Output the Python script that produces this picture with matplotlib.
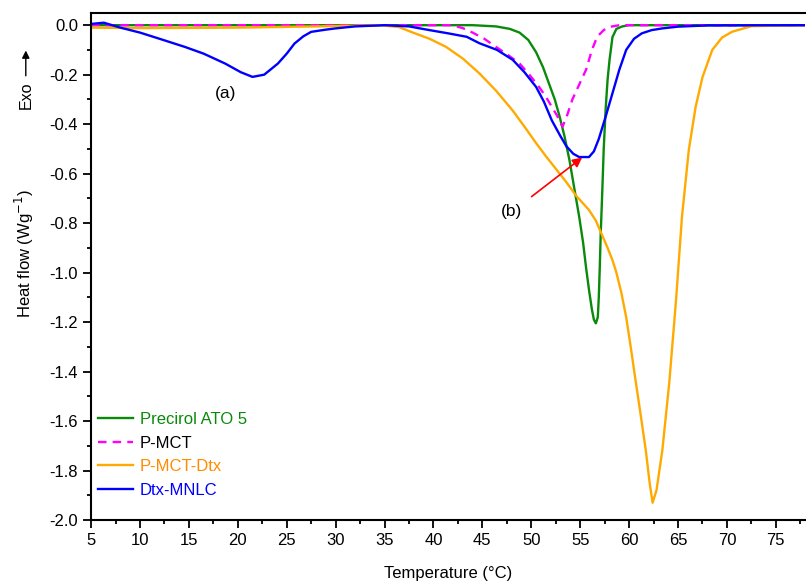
import numpy as np
from matplotlib import pyplot as plt
from matplotlib.patches import FancyArrowPatch
from matplotlib.ticker import MultipleLocator

plt.rcParams['font.family'] = ['Liberation Sans', 'DejaVu Sans']
plt.rcParams['font.size'] = 12

# DSC curves
t_precirol = [5, 30, 44, 46.4, 47.8, 48.8, 49.7, 50.5, 51.2, 51.8, 52.4, 52.9, 53.4, 53.9,
              54.4, 54.9, 55.3, 55.6, 55.9, 56.2, 56.4, 56.6, 56.8, 56.9, 57.0, 57.1, 57.25,
              57.4, 57.6, 57.8, 58.0, 58.3, 58.7, 59.3, 60, 78]
hf_precirol = [0, 0, 0, -0.005, -0.015, -0.03, -0.06, -0.11, -0.17, -0.235, -0.3, -0.37,
               -0.45, -0.545, -0.66, -0.775, -0.88, -0.98, -1.07, -1.15, -1.19, -1.205,
               -1.18, -1.1, -0.98, -0.84, -0.68, -0.505, -0.34, -0.22, -0.14, -0.048,
               -0.015, -0.005, 0, 0]

t_pmct = [5, 40, 41.9, 43, 44, 45.2, 46.4, 47.6, 48.8, 49.8, 50.8, 51.5, 52.1, 52.7, 53.2,
          53.7, 54.2, 54.9, 55.6, 56.2, 56.6, 56.9, 57.4, 58, 59, 78]
hf_pmct = [0, 0, 0, -0.012, -0.03, -0.055, -0.088, -0.12, -0.155, -0.2, -0.25, -0.29, -0.33,
           -0.37, -0.41, -0.36, -0.30, -0.24, -0.18, -0.10, -0.06, -0.04, -0.02, -0.007, 0, 0]

t_pmct_dtx = [5, 10, 20, 28, 32, 34.5, 36.5, 37.9, 39.6, 41.3, 43, 44.7, 46.4, 48.1, 49.3,
              50.5, 51.5, 52.6, 53.5, 54.6, 55.9, 56.6, 57.2, 57.8, 58.3, 58.7, 59.2, 59.7,
              60.2, 60.7, 61.2, 61.7, 62.1, 62.4, 62.8, 63.4, 64.1, 64.8, 65.4, 66.1, 66.8,
              67.5, 68.5, 69.5, 70.5, 72.5, 78]
hf_pmct_dtx = [-0.01, -0.012, -0.01, -0.005, -0.002, 0, -0.008, -0.03, -0.055, -0.088,
               -0.135, -0.195, -0.265, -0.345, -0.41, -0.477, -0.53, -0.585, -0.63, -0.69,
               -0.747, -0.79, -0.845, -0.9, -0.95, -1.0, -1.08, -1.18, -1.31, -1.447, -1.58,
               -1.717, -1.85, -1.93, -1.88, -1.717, -1.447, -1.11, -0.776, -0.505, -0.33,
               -0.21, -0.1, -0.05, -0.027, -0.004, 0]

t_mnlc = [5, 6.3, 8, 10, 12, 14.6, 16.5, 18.7, 20.3, 21.5, 22.7, 24.1, 25, 25.8, 26.7, 27.5,
          29, 30, 32, 35, 37.5, 39.6, 41.5, 43.4, 44.7, 46.5, 48.1, 49.3, 50.5, 51.3, 52.1,
          53, 53.6, 54.3, 54.9, 55.9, 56.4, 56.9, 57.6, 58.3, 59, 59.7, 60.5, 61.3, 62.3,
          63.4, 65, 68, 78]
hf_mnlc = [0.005, 0.01, -0.01, -0.03, -0.055, -0.088, -0.115, -0.155, -0.19, -0.209, -0.2,
           -0.155, -0.115, -0.074, -0.045, -0.027, -0.018, -0.013, -0.005, 0.0, -0.005,
           -0.02, -0.033, -0.047, -0.073, -0.1, -0.14, -0.19, -0.25, -0.31, -0.385, -0.45,
           -0.49, -0.52, -0.533, -0.533, -0.51, -0.46, -0.37, -0.275, -0.18, -0.1, -0.055,
           -0.033, -0.02, -0.013, -0.006, -0.001, 0.0]

series = [
    ('Precirol ATO 5', t_precirol, hf_precirol, '#0a8a0a', '-'),
    ('P-MCT', t_pmct, hf_pmct, '#ff00ff', (0, (3.6, 2.6))),
    ('P-MCT-Dtx', t_pmct_dtx, hf_pmct_dtx, '#ffaa00', '-'),
    ('Dtx-MNLC', t_mnlc, hf_mnlc, '#0000ff', '-'),
]
label_colors = ['#0a8a0a', 'black', '#ff8c00', '#0000ff']

fig = plt.figure(figsize=(8.06, 5.82), dpi=100)
ax = fig.add_axes([0.113, 0.1065, 0.886, 0.8715])

for name, t, hf, c, ls in series:
    ax.plot(t, hf, color=c, ls=ls, lw=1.7, label=name)

ax.set_xlim(5, 78)
ax.set_ylim(-2.0, 0.05)
ax.xaxis.set_major_locator(MultipleLocator(5))
ax.xaxis.set_minor_locator(MultipleLocator(2.5))
ax.yaxis.set_major_locator(MultipleLocator(0.2))
ax.yaxis.set_minor_locator(MultipleLocator(0.1))
ax.tick_params(which='major', direction='out', length=6, width=1.3, labelsize=12)
ax.tick_params(which='minor', direction='out', length=3, width=1.3)
ax.yaxis.set_major_formatter(plt.FuncFormatter(lambda v, p: f'{v:.1f}'))
for s in ['left', 'bottom', 'top']:
    ax.spines[s].set_linewidth(1.5)
ax.spines['right'].set_visible(False)

ax.set_xlabel('Temperature (\u00b0C)', labelpad=13)
fig.text(0.030, 0.5636, 'Heat flow (Wg$^{-1}$)', rotation=90, ha='center', va='center')
fig.text(0.032, 0.837, 'Exo', rotation=90, ha='center', va='center', fontsize=11.5)
fig.patches.append(FancyArrowPatch(
    (0.032, 0.865), (0.032, 0.918), transform=fig.transFigure,
    arrowstyle='-|>', mutation_scale=11, lw=1, color='black'))

ax.text(18.7, -0.275, '(a)', ha='center', va='center', fontsize=12.5)
ax.annotate('(b)', xy=(55.2, -0.535), xytext=(48.0, -0.755), ha='center', va='center',
            fontsize=12.5,
            arrowprops=dict(arrowstyle='-|>', color='red', lw=1.2, mutation_scale=14,
                            shrinkA=6, shrinkB=0))

ax.legend(loc='lower left', bbox_to_anchor=(-0.011, 0.014), frameon=False,
          handlelength=2.1, handletextpad=0.4, labelspacing=0.52,
          labelcolor=label_colors)

fig.savefig('out.png', dpi=100)
